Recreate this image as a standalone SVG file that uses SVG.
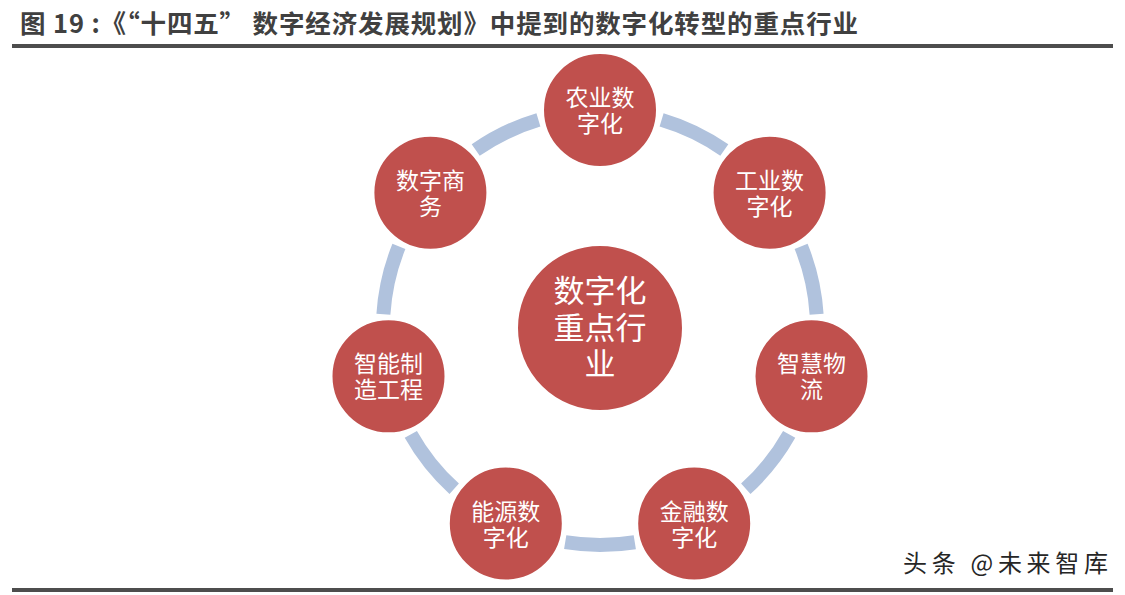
<svg xmlns="http://www.w3.org/2000/svg" xmlns:xlink="http://www.w3.org/1999/xlink" width="1125" height="595" viewBox="0 0 1125 595">
<style>
.title{font-family:"Noto Sans CJK SC","Liberation Sans",sans-serif;font-weight:bold;font-size:25.5px;fill:#404040}
.node circle{fill:#C0504D;stroke:#ffffff;stroke-width:2}
.lbl{font-family:"Noto Sans CJK SC","Liberation Sans",sans-serif;font-size:23px;fill:#ffffff;text-anchor:middle}
.big{font-size:31px}
.arc{fill:none;stroke:#B0C2DD;stroke-width:14}
.wm{font-family:"Noto Sans CJK SC","Liberation Sans",sans-serif;font-size:24px;fill:#262626}
</style>
<defs>
<path id="seg" class="arc" d="M661.6,119.9 A217,217 0 0 1 724.3,150.1"/>
</defs>
<rect width="1125" height="595" fill="#ffffff"/>
<text class="title" x="20" y="33" textLength="838" lengthAdjust="spacing">图 19 :《“十四五” 数字经济发展规划》中提到的数字化转型的重点行业</text>
<rect x="12" y="44" width="1101" height="4" fill="#4d4d4d"/>
<g id="connectors">
<use xlink:href="#seg"/>
<use xlink:href="#seg" transform="rotate(51.4286 600 328)"/>
<use xlink:href="#seg" transform="rotate(102.8571 600 328)"/>
<use xlink:href="#seg" transform="rotate(154.2857 600 328)"/>
<use xlink:href="#seg" transform="rotate(205.7143 600 328)"/>
<use xlink:href="#seg" transform="rotate(257.1429 600 328)"/>
<use xlink:href="#seg" transform="rotate(308.5714 600 328)"/>
</g>
<g id="center" class="node">
<circle cx="600" cy="328" r="83"/>
<text class="lbl big" x="600" y="302">数字化<tspan x="600" dy="37">重点行</tspan><tspan x="600" dy="36">业</tspan></text>
</g>
<g id="n-agri" class="node">
<circle cx="600" cy="110" r="57"/>
<text class="lbl" x="600" y="106">农业数<tspan x="600" dy="26">字化</tspan></text>
</g>
<g id="n-ind" class="node">
<circle cx="769.6" cy="192.7" r="57"/>
<text class="lbl" x="769.6" y="188.7">工业数<tspan x="769.6" dy="26">字化</tspan></text>
</g>
<g id="n-logi" class="node">
<circle cx="811.5" cy="376.3" r="57"/>
<text class="lbl" x="811.5" y="372.3">智慧物<tspan x="811.5" dy="26">流</tspan></text>
</g>
<g id="n-fin" class="node">
<circle cx="694.2" cy="523.5" r="57"/>
<text class="lbl" x="694.2" y="519.5">金融数<tspan x="694.2" dy="26">字化</tspan></text>
</g>
<g id="n-energy" class="node">
<circle cx="505.8" cy="523.5" r="57"/>
<text class="lbl" x="505.8" y="519.5">能源数<tspan x="505.8" dy="26">字化</tspan></text>
</g>
<g id="n-mfg" class="node">
<circle cx="388.5" cy="376.3" r="57"/>
<text class="lbl" x="388.5" y="372.3">智能制<tspan x="388.5" dy="26">造工程</tspan></text>
</g>
<g id="n-com" class="node">
<circle cx="430.4" cy="192.7" r="57"/>
<text class="lbl" x="430.4" y="188.7">数字商<tspan x="430.4" dy="26">务</tspan></text>
</g>
<text class="wm" x="903" y="572" textLength="205" lengthAdjust="spacing">头条 @未来智库</text>
<rect x="12" y="588" width="1101" height="4" fill="#4d4d4d"/>
</svg>
